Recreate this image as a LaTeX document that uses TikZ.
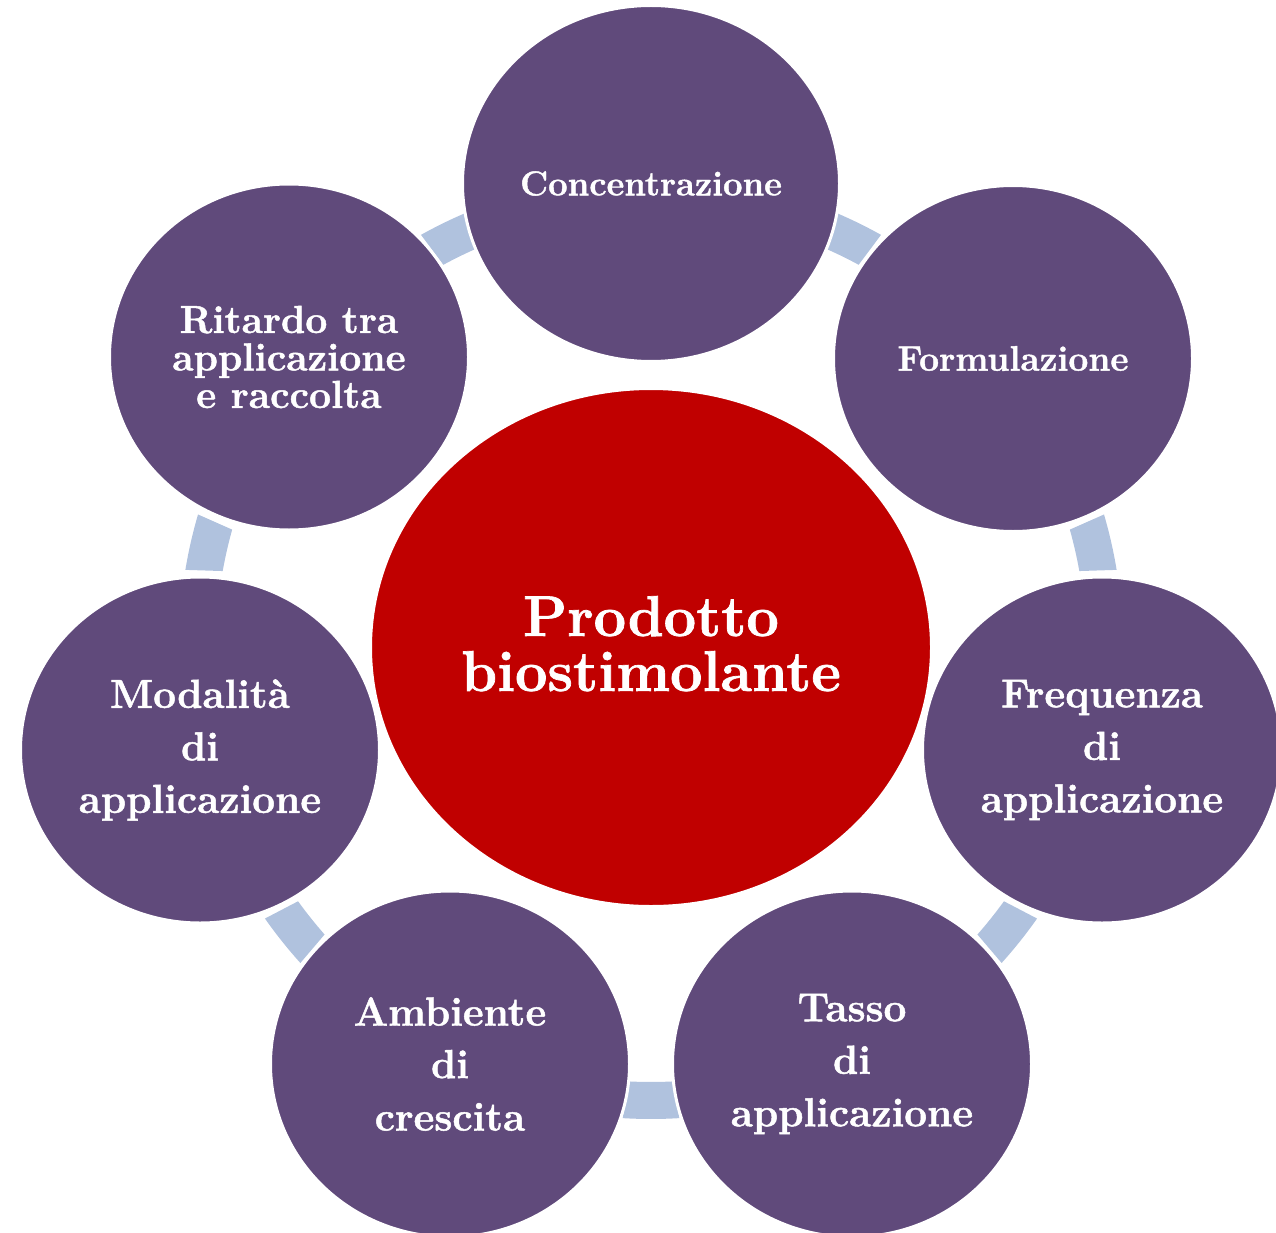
\documentclass[tikz,border=0pt]{standalone}
\usepackage{fontspec}
\setmainfont{Latin Modern Roman}[BoldFeatures={FakeBold=1.2}]
\usetikzlibrary{shapes.geometric}
\definecolor{purp}{HTML}{604A7B}
\definecolor{redc}{HTML}{C00000}
\definecolor{arcb}{HTML}{B0C2DE}
\tikzset{
  bubble/.style={ellipse, fill=purp, draw=white, line width=3pt, inner sep=0pt,
    text=white, align=center, minimum width=359, minimum height=346,
    font=\bfseries\fontsize{40.5}{52.5}\selectfont},
  hub/.style={ellipse, fill=redc, draw=white, line width=3pt, inner sep=0pt,
    text=white, align=center, minimum width=561, minimum height=518,
    font=\bfseries\fontsize{57.5}{55}\selectfont},
  link/.style={fill=arcb, draw=none}
}
\begin{document}
\begin{tikzpicture}[x=1pt,y=1pt]
\useasboundingbox (0,0) rectangle (1276,-1233);
\clip (0,0) rectangle (1276,-1233);
\coordinate (o) at (651,-647);
% connectors (block arcs)
\foreach \k in {0,...,6}{
  \pgfmathsetmacro\angm{90-360/7*(\k+0.5)}
  \pgfmathsetmacro\angOa{\angm-3.45}
  \pgfmathsetmacro\angOb{\angm+3.45}
  \pgfmathsetmacro\angIa{\angm-2.8}
  \pgfmathsetmacro\angIb{\angm+2.8}
  \fill[link] ([shift={(o)}]\angOa:472) arc[start angle=\angOa, end angle=\angOb, radius=472]
    -- ([shift={(o)}]\angIb:435) arc[start angle=\angIb, end angle=\angIa, radius=435] -- cycle;
}
% outer bubbles
\node[bubble, minimum width=377, minimum height=356, font=\bfseries\fontsize{34.6}{40}\selectfont] (conc) at (651,-183.5) {Concentrazione};
\node[bubble, font=\bfseries\fontsize{35.3}{40}\selectfont] (form) at (1013,-358.5) {Formulazione};
\node[bubble] (freq) at (1102,-750) {Frequenza\\di\\applicazione};
\node[bubble] (tasso) at (852,-1064) {Tasso\\di\\applicazione};
\node[bubble] (amb) at (450,-1064) {Ambiente\\di\\crescita};
\node[bubble] (mod) at (200,-750) {Modalità\\di\\applicazione};
\node[bubble, font=\bfseries\fontsize{39}{37.5}\selectfont] (rit) at (289,-357) {Ritardo tra\\applicazione\\e raccolta};
% hub
\node[hub] (c) at (651,-647.5) {Prodotto\\biostimolante\rule[-8pt]{0pt}{8pt}};
\end{tikzpicture}
\end{document}
